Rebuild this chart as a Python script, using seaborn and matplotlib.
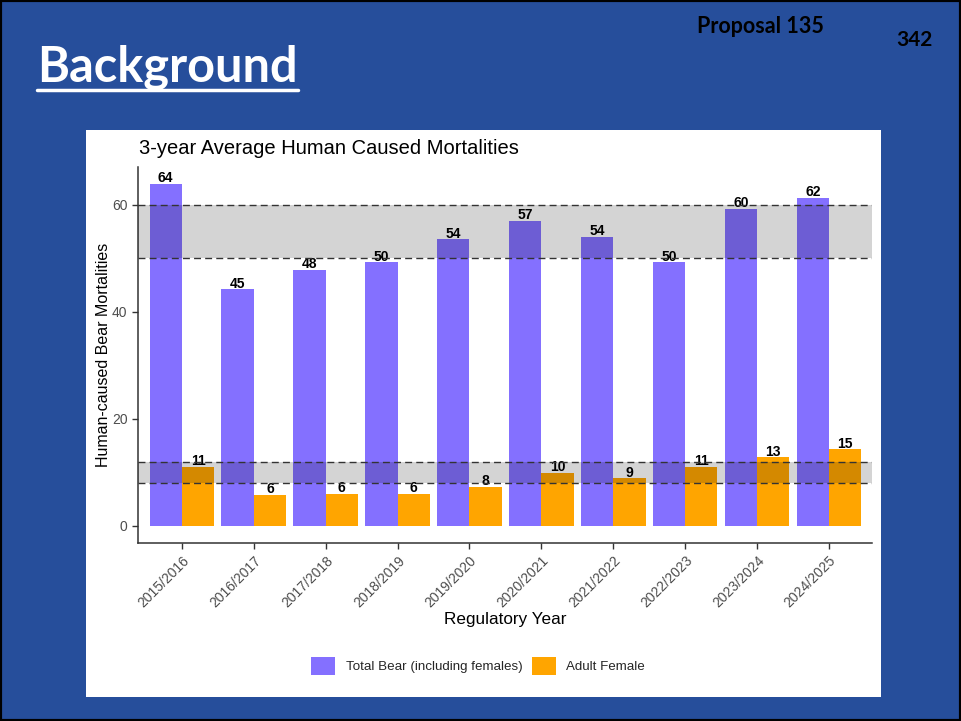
import matplotlib
matplotlib.use("Agg")
import matplotlib.pyplot as plt
from matplotlib.patches import Patch, Rectangle
from matplotlib.lines import Line2D
import seaborn as sns
import pandas as pd

years = ["2015/2016", "2016/2017", "2017/2018", "2018/2019", "2019/2020",
         "2020/2021", "2021/2022", "2022/2023", "2023/2024", "2024/2025"]
total_bear = [64.0, 44.2, 47.9, 49.3, 53.6, 57.0, 54.0, 49.3, 59.3, 61.3]
adult_female = [11.1, 5.8, 6.0, 6.0, 7.3, 9.9, 8.9, 11.0, 12.8, 14.3]
total_labels = ["64", "45", "48", "50", "54", "57", "54", "50", "60", "62"]
female_labels = ["11", "6", "6", "6", "8", "10", "9", "11", "13", "15"]
series_names = ["Total Bear (including females)", "Adult Female"]
colors = ["#8470FF", "#FFA500"]
band_total = (50, 60)
band_female = (8, 12)
y_ticks = [0, 20, 40, 60]

df = pd.DataFrame({
    "year": years * 2,
    "value": total_bear + adult_female,
    "series": [series_names[0]] * len(years) + [series_names[1]] * len(years),
})

sns.set_theme(style="white")
plt.rcParams["font.family"] = ["Liberation Sans", "DejaVu Sans"]

W, H = 961, 721
fig = plt.figure(figsize=(W / 100, H / 100), dpi=100)
fig.patch.set_facecolor("#264E9B")

# slide border
fig.add_artist(Rectangle((0, 0), 1, 1, transform=fig.transFigure, fill=False,
                         edgecolor="black", linewidth=3, zorder=10))
# white panel
fig.add_artist(Rectangle((86 / W, 1 - 697 / H), (881 - 86) / W, (697 - 130) / H,
                         transform=fig.transFigure, facecolor="white",
                         edgecolor="none", zorder=0))

# slide texts
fig.text(37 / W, 1 - 81 / H, "Background", color="white", fontsize=35,
         fontweight="bold", family=["Lato", "DejaVu Sans"], ha="left", va="baseline")
fig.add_artist(Line2D([37 / W, 298 / W], [1 - 90 / H, 1 - 90 / H],
                      transform=fig.transFigure, color="white", linewidth=2.5))
fig.text(760 / W, 1 - 33 / H, "Proposal 135", color="black", fontsize=15.5,
         fontweight="bold", family=["Lato", "DejaVu Sans"], ha="center", va="baseline")
fig.text(914 / W, 1 - 46 / H, "342", color="black", fontsize=15,
         fontweight="bold", family=["Lato", "DejaVu Sans"], ha="center", va="baseline")

ax = fig.add_axes([138 / W, 1 - 543 / H, (872 - 138) / W, (543 - 167) / H])
ax.set_facecolor("white")
ax.set_zorder(2)

sns.barplot(data=df, x="year", y="value", hue="series", palette=colors,
            width=0.9, gap=0, ax=ax, legend=False, saturation=1, zorder=1,
            linewidth=0, edgecolor="none")

for cont, labs in zip(ax.containers, [total_labels, female_labels]):
    texts = ax.bar_label(cont, labels=labs, padding=-1, fontsize=10,
                         fontweight="bold", color="black")
    for t in texts:
        t.set_zorder(2)

for lo, hi in [band_total, band_female]:
    ax.axhspan(lo, hi, color="black", alpha=0.17, linewidth=0, zorder=3)
    for yv in (lo, hi):
        ax.axhline(yv, color="#333333", linestyle=(0, (5, 3)), linewidth=1.0, zorder=4)

ax.set_xlim(-0.61, 9.6)
ax.set_ylim(-3.2, 67.1)
ax.set_yticks(y_ticks)
ax.set_yticklabels([str(v) for v in y_ticks])

for s in ["top", "right"]:
    ax.spines[s].set_visible(False)
for s in ["left", "bottom"]:
    ax.spines[s].set_color("#333333")
    ax.spines[s].set_linewidth(1.1)

ax.tick_params(axis="both", which="both", length=4, width=1, color="#333333",
               labelcolor="#4D4D4D", labelsize=10, direction="out",
               bottom=True, left=True)
plt.setp(ax.get_xticklabels(), rotation=45, ha="right", rotation_mode="anchor")

ax.set_xlabel("Regulatory Year", fontsize=12.3, color="black", labelpad=1)
ax.set_ylabel("Human-caused Bear Mortalities", fontsize=11.5, color="black", labelpad=1)

fig.text(139 / W, 1 - 154 / H, "3-year Average Human Caused Mortalities",
         fontsize=14.5, color="black", ha="left", va="baseline")

handles = [Patch(facecolor=c, edgecolor="none", label=n) for c, n in zip(colors, series_names)]
fig.legend(handles=handles, loc="center", bbox_to_anchor=(478 / W, 1 - 666 / H),
           ncol=2, frameon=False, fontsize=9.6, handlelength=1.8, handleheight=1.8,
           handletextpad=0.8, columnspacing=0.7)

fig.savefig("out.png", dpi=100, facecolor=fig.get_facecolor())
